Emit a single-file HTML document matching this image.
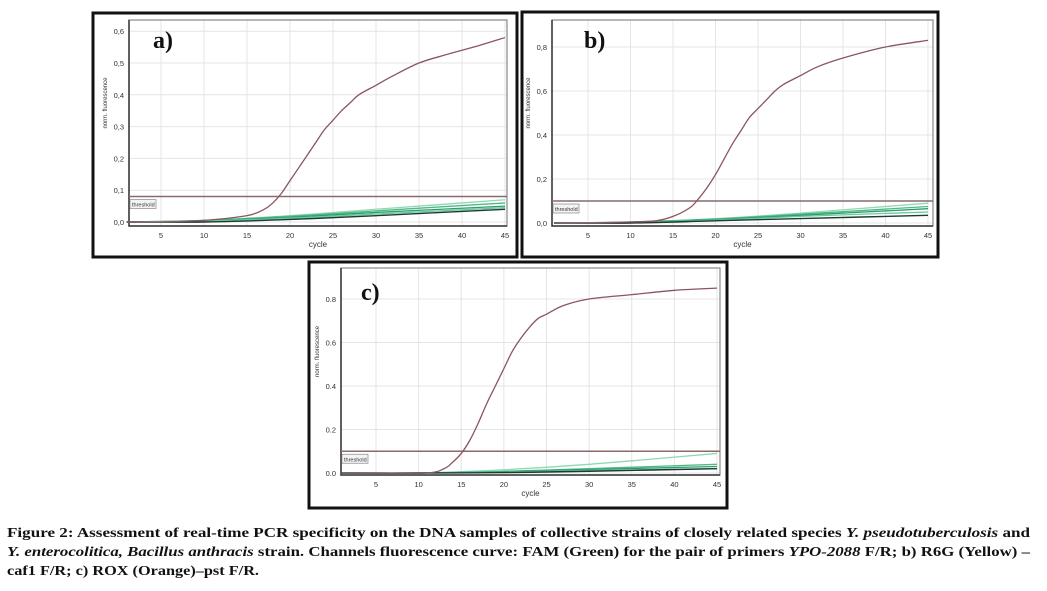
<!DOCTYPE html>
<html><head><meta charset="utf-8"><style>
body{margin:0;background:#fff;width:1047px;height:591px;overflow:hidden}
svg{position:absolute;left:0;top:0}
</style></head><body>
<svg id="s" width="1047" height="591" xmlns="http://www.w3.org/2000/svg">
<g id="cap" font-family="Liberation Serif, serif" font-weight="bold" font-size="14" fill="#111">
<text x="7" y="537" textLength="1023" lengthAdjust="spacingAndGlyphs">Figure 2: Assessment of real-time PCR specificity on the DNA samples of collective strains of closely related species <tspan font-style="italic">Y. pseudotuberculosis</tspan> and</text>
<text x="7" y="556" textLength="1023" lengthAdjust="spacingAndGlyphs"><tspan font-style="italic">Y. enterocolitica, Bacillus anthracis</tspan> strain. Channels fluorescence curve: FAM (Green) for the pair of primers <tspan font-style="italic">YPO-2088</tspan> F/R; b) R6G (Yellow) –</text>
<text x="7" y="575" textLength="252" lengthAdjust="spacingAndGlyphs">caf1 F/R; c) ROX (Orange)–pst F/R.</text>
</g>
</svg>
<script>
const cyclesA=[1,5,10,15,17,18,19,20,21,22,23,24,25,26,27,28,30,32,35,38,40,42,45];
const redA=[0,0,0.005,0.02,0.04,0.06,0.09,0.13,0.17,0.21,0.25,0.29,0.32,0.35,0.375,0.40,0.43,0.46,0.50,0.525,0.54,0.555,0.58];
const cyclesB=[1,5,10,13,15,17,18,19,20,21,22,23,24,25,26,27,28,30,32,35,40,45];
const redB=[0,0,0.005,0.01,0.03,0.07,0.11,0.16,0.22,0.29,0.36,0.42,0.48,0.52,0.56,0.60,0.63,0.67,0.71,0.75,0.80,0.83];
const cyclesC=[1,5,11,13,14,15,16,17,18,19,20,21,22,23,24,25,27,30,35,40,45];
const redC=[0,0,0,0.02,0.05,0.09,0.15,0.23,0.32,0.40,0.48,0.56,0.62,0.67,0.71,0.73,0.77,0.80,0.82,0.84,0.85];
const greenCycles=[1,10,20,30,45];
const greensA=[[0,0.005,0.02,0.04,0.07],[0,0.005,0.018,0.035,0.06],[0,0.004,0.015,0.03,0.05],[0,0.003,0.012,0.025,0.045]];
const darkA=[0,0,0.008,0.02,0.04];
const greensB=[[0,0.005,0.02,0.045,0.09],[0,0.004,0.018,0.04,0.075],[0,0.004,0.015,0.035,0.065],[0,0.003,0.013,0.03,0.05]];
const darkB=[0,0,0.01,0.02,0.035];
const greensC=[[0,0,0.015,0.04,0.09],[0,0,0.008,0.02,0.04],[0,0,0.006,0.016,0.03],[0,0,0.004,0.012,0.02]];
const darkC=[0,0,0.002,0.008,0.02];
const thresholds=[0.08,0.1,0.1];
const yTicksA=[0,0.1,0.2,0.3,0.4,0.5,0.6];
const yLabelsA=["0,0","0,1","0,2","0,3","0,4","0,5","0,6"];
const yTicksB=[0,0.2,0.4,0.6,0.8];
const yLabelsB=["0,0","0,2","0,4","0,6","0,8"];
const yLabelsC=["0.0","0.2","0.4","0.6","0.8"];
const xTicks=[5,10,15,20,25,30,35,40,45];

const S=document.getElementById('s');
const NS='http://www.w3.org/2000/svg';
function mk(t,a,p){const e=document.createElementNS(NS,t);for(const k in a)e.setAttribute(k,a[k]);(p||S).appendChild(e);return e;}
function smooth(pts){
 let d='M'+pts[0][0]+','+pts[0][1];
 for(let i=0;i<pts.length-1;i++){
  const p0=pts[Math.max(0,i-1)],p1=pts[i],p2=pts[i+1],p3=pts[Math.min(pts.length-1,i+2)];
  const c1=[p1[0]+(p2[0]-p0[0])/6,p1[1]+(p2[1]-p0[1])/6];
  const c2=[p2[0]-(p3[0]-p1[0])/6,p2[1]-(p3[1]-p1[1])/6];
  d+=` C${c1[0]},${c1[1]} ${c2[0]},${c2[1]} ${p2[0]},${p2[1]}`;
 }
 return d;
}

const panels=[
 {id:'a',fr:[93,13,424,244],pl:[129,20,378,206],x5:161,x45:505,y0:222,yk:318,yt:yTicksA,yl:yLabelsA,cx:cyclesA,red:redA,gr:greensA,dk:darkA,th:thresholds[0],lab:[153,48]},
 {id:'b',fr:[522,12,416,245],pl:[552,20,381,206],x5:588,x45:928,y0:223,yk:220,yt:yTicksB,yl:yLabelsB,cx:cyclesB,red:redB,gr:greensB,dk:darkB,th:thresholds[1],lab:[584,48]},
 {id:'c',fr:[309,262,418,246],pl:[341,268,379,207],x5:376,x45:717,y0:473,yk:217.5,yt:yTicksB,yl:yLabelsC,cx:cyclesC,red:redC,gr:greensC,dk:darkC,th:thresholds[2],lab:[361,300]}
];
const greenCols=['#8fd8b4','#4fb886','#2a9e6e','#6cc89c'];
panels.forEach(P=>{
 const g=mk('g',{});
 
 
 const X=c=>P.x5+(c-5)*(P.x45-P.x5)/40;
 const Y=v=>P.y0-v*P.yk;
 const [px,py,pw,ph]=P.pl;
 const fr=mk('rect',{x:P.fr[0],y:P.fr[1],width:P.fr[2],height:P.fr[3],fill:'#fff',stroke:'#111','stroke-width':3},g);
 
 
 xTicks.forEach(t=>{
  const l=mk('line',{x1:X(t),x2:X(t),y1:py,y2:py+ph,stroke:'#e4e4e4'},g);
  
  
  const tx=mk('text',{x:X(t),y:py+ph+12,'font-size':7.5,'font-family':'Liberation Sans, sans-serif','text-anchor':'middle',fill:'#333'},g);
  tx.textContent=t;
  
  
 });
 P.yt.forEach((t,i)=>{
  const l=mk('line',{x1:px,x2:px+pw,y1:Y(t),y2:Y(t),stroke:'#e4e4e4'},g);
  
  
  const tx=mk('text',{x:px-5,y:Y(t)+3,'font-size':7.5,'font-family':'Liberation Sans, sans-serif','text-anchor':'end',fill:'#333'},g);
  tx.textContent=P.yl[i];
  
  
 });
 const pr=mk('rect',{x:px,y:py,width:pw,height:ph,fill:'none',stroke:'#888','stroke-width':1.2},g);
 
 
 const ax=mk('path',{d:`M${px},${py} V${py+ph} H${px+pw}`,fill:'none',stroke:'#333','stroke-width':1.5},g);
 
 
 const xt=mk('text',{x:px+pw/2,y:py+ph+21,'font-size':8,'font-family':'Liberation Sans, sans-serif','text-anchor':'middle',fill:'#333'},g);
 xt.textContent='cycle';
 
 
 const yt=mk('text',{x:0,y:0,'font-size':6,'font-family':'Liberation Sans, sans-serif','text-anchor':'middle',fill:'#333',transform:`translate(${px-22},${py+ph/2-20}) rotate(-90)`},g);
 yt.textContent='norm. fluorescence';
 
 
 P.gr.forEach((s,i)=>{
  const pl=mk('path',{d:smooth(greenCycles.map((c,j)=>[X(c),Y(s[j])])),fill:'none',stroke:greenCols[i],'stroke-width':1.3},g);
  
  
 });
 const dk=mk('path',{d:smooth(greenCycles.map((c,j)=>[X(c),Y(P.dk[j])])),fill:'none',stroke:'#1d3b33','stroke-width':1.4},g);
 
 
 const th=mk('line',{x1:px,x2:px+pw,y1:Y(P.th),y2:Y(P.th),stroke:'#8a6a6a','stroke-width':1.5},g);
 
 
 const tb=mk('rect',{x:px+1,y:Y(P.th)+3,width:26,height:9,fill:'#f4f4f4',stroke:'#888','stroke-width':0.7},g);
 
 
 const tt=mk('text',{x:px+3,y:Y(P.th)+10,'font-size':5.5,'font-family':'Liberation Sans, sans-serif',fill:'#333'},g);
 tt.textContent='threshold';
 
 
 const rc=mk('path',{d:smooth(P.cx.map((c,j)=>[X(c),Y(P.red[j])])),fill:'none',stroke:'#8a5560','stroke-width':1.3},g);
 
 
 const lb=mk('text',{x:P.lab[0],y:P.lab[1],'font-size':24,'font-weight':'bold','font-family':'Liberation Serif, serif',fill:'#111'},g);
 lb.textContent=P.id+')';
 
 
});
</script>
</body></html>
